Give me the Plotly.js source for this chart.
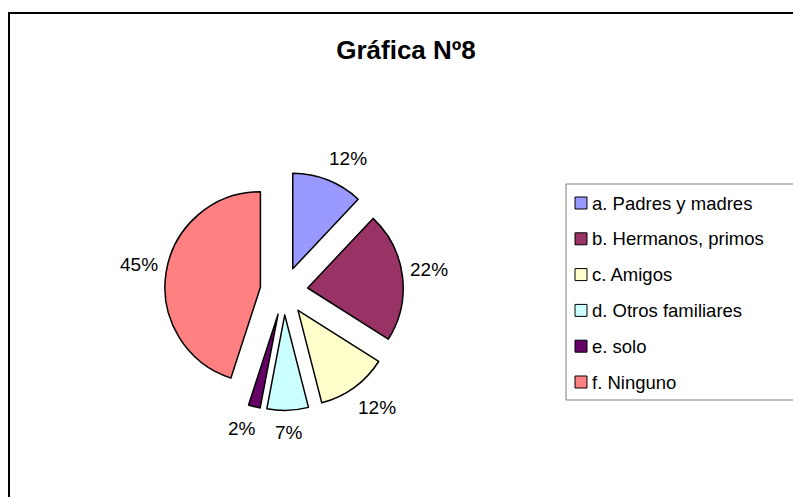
<!DOCTYPE html>
<html>
<head>
<meta charset="utf-8">
<script src="https://cdn.plot.ly/plotly-3.0.1.min.js"></script>
<style>html,body{margin:0;padding:0;background:#fff;}#chart{width:793px;height:497px;}</style>
</head>
<body>
<div id="chart"></div>
<script>
// ---- data ----
const categories = ["a. Padres y madres", "b. Hermanos, primos", "c. Amigos", "d. Otros familiares", "e. solo", "f. Ninguno"];
const values = [12, 22, 12, 7, 2, 45];
const colors = ["#9999FF", "#993366", "#FFFFCC", "#CCFFFF", "#660066", "#FF8080"];
const titleText = "Gráfica Nº8";

// ---- layout helpers ----
const W = 793, H = 497;
const FONT = "Liberation Sans, Arial, sans-serif";
const LABEL_SIZE = 19;
const cx = 284, cy = 291, R = 95.5, pull = 0.25;
const half = R * (1 + pull);

const trace = {
  type: "pie",
  labels: categories,
  values: values,
  sort: false,
  direction: "clockwise",
  rotation: 0,
  pull: categories.map(() => pull),
  marker: { colors: colors, line: { color: "#000", width: 1.5 } },
  textinfo: "none",
  hoverinfo: "none",
  showlegend: false,
  domain: {
    x: [(cx - half) / W, (cx + half) / W],
    y: [(H - cy - half) / H, (H - cy + half) / H]
  }
};

const shapes = [];
const annotations = [];
// outer chart border (extends beyond right/bottom edges)
shapes.push({ type: "rect", xref: "paper", yref: "paper", x0: 9 / W, x1: 1.02, y0: -0.02, y1: 1 - 13 / H, line: { color: "#000", width: 2 }, fillcolor: "rgba(0,0,0,0)", layer: "below" });

// percent labels placed outside each slice (Excel-style spacing)
const total = values.reduce((a, b) => a + b, 0);
const D = 130;
const clamp = v => Math.max(-1, Math.min(1, v));
let cum = 0;
values.forEach((v, i) => {
  const frac = (cum + v / 2) / total;
  cum += v;
  const th = frac * 2 * Math.PI;
  const dx = Math.sin(th), dy = -Math.cos(th);
  const txt = Math.round(v / total * 100) + "%";
  const w = ((txt.length - 1) * 0.556 + 0.889) * LABEL_SIZE;
  const h = LABEL_SIZE;
  const px = cx + D * dx + (w / 2) * 0.85 * clamp(dx / 0.3);
  const py = cy + D * dy + (h / 2) * 1.2 * clamp(dy / 0.3);
  annotations.push({ xref: "paper", yref: "paper", x: px / W, y: 1 - py / H, xanchor: "center", yanchor: "middle", text: txt, showarrow: false, font: { family: FONT, size: LABEL_SIZE, color: "#000" } });
});

// legend box
const lgX0 = 566, lgY0 = 184, lgY1 = 400;
shapes.push({ type: "rect", xref: "paper", yref: "paper", x0: lgX0 / W, x1: 1.02, y0: 1 - lgY1 / H, y1: 1 - lgY0 / H, line: { color: "#808080", width: 1 }, fillcolor: "#fff" });
const rowStart = 203, rowStep = 35.8;
categories.forEach((c, i) => {
  const yc = rowStart + i * rowStep;
  shapes.push({ type: "rect", xref: "paper", yref: "paper", x0: 575 / W, x1: 587 / W, y0: 1 - (yc + 6) / H, y1: 1 - (yc - 6) / H, line: { color: "#000", width: 1 }, fillcolor: colors[i] });
  annotations.push({ xref: "paper", yref: "paper", x: 590 / W, y: 1 - yc / H, xanchor: "left", yanchor: "middle", text: c, showarrow: false, font: { family: FONT, size: 18.5, color: "#000" } });
});

const layout = {
  width: W, height: H,
  margin: { l: 0, r: 0, t: 0, b: 0 },
  paper_bgcolor: "#fff",
  title: { text: "<b>" + titleText + "</b>", x: 406 / W, xanchor: "center", y: 1 - 50 / H, yanchor: "middle", font: { family: FONT, size: 26, color: "#000" } },
  shapes: shapes,
  annotations: annotations
};

Plotly.newPlot("chart", [trace], layout, { staticPlot: true, displayModeBar: false });
</script>
</body>
</html>
